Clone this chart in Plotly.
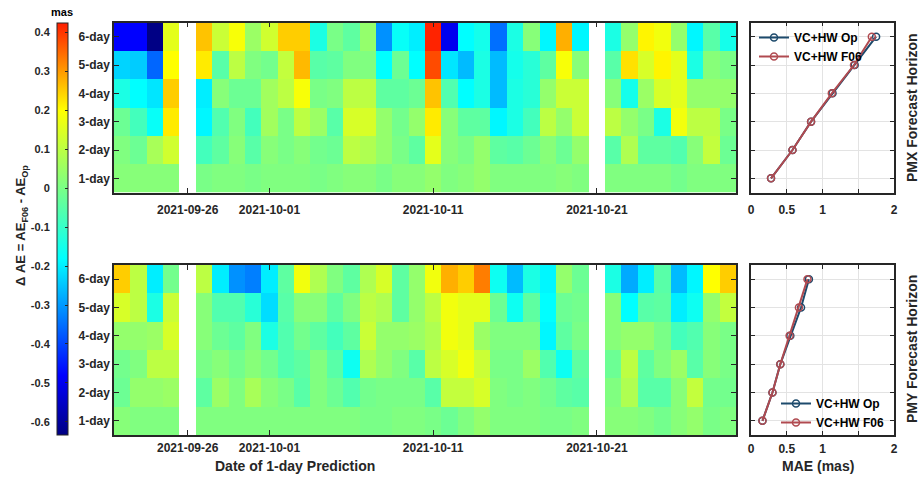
import plotly.graph_objects as go

W, H = 921, 479
def X(px): return px / W
def Y(py): return 1 - py / H

# ---------------- data ----------------
dates = ["2021-09-22", "2021-09-23", "2021-09-24", "2021-09-25", "2021-09-26", "2021-09-27",
         "2021-09-28", "2021-09-29", "2021-09-30", "2021-10-01", "2021-10-02", "2021-10-03",
         "2021-10-04", "2021-10-05", "2021-10-06", "2021-10-07", "2021-10-08", "2021-10-09",
         "2021-10-10", "2021-10-11", "2021-10-12", "2021-10-13", "2021-10-14", "2021-10-15",
         "2021-10-16", "2021-10-17", "2021-10-18", "2021-10-19", "2021-10-20", "2021-10-21",
         "2021-10-22", "2021-10-23", "2021-10-24", "2021-10-25", "2021-10-26", "2021-10-27",
         "2021-10-28", "2021-10-29"]
horizons = [1, 2, 3, 4, 5, 6]
horizon_labels = ["1-day", "2-day", "3-day", "4-day", "5-day", "6-day"]
N = None

# Delta AE (mas), PMX, rows = 1-day ... 6-day
dae_pmx = [
    [0.02, 0.02, 0.02, 0.02, N, 0.00, 0.01, 0.01, 0.00, 0.01, 0.01, 0.01, 0.00, 0.01, 0.02, 0.02, 0.00, 0.02, 0.02,
     0.04, 0.01, 0.02, 0.04, 0.01, 0.01, 0.01, 0.01, 0.02, 0.01, N, 0.01, 0.01, 0.01, 0.01, -0.01, 0.01, 0.01, 0.01],
    [0.01, -0.02, 0.07, 0.13, N, -0.08, -0.04, 0.02, -0.05, 0.02, 0.00, 0.02, -0.01, -0.02, 0.10, 0.08, 0.04, 0.00, -0.04,
     0.16, 0.02, 0.00, 0.04, -0.04, -0.05, -0.02, 0.02, -0.02, 0.04, N, -0.05, 0.08, -0.04, -0.04, -0.06, 0.02, 0.11, -0.02],
    [-0.02, -0.08, -0.17, 0.22, N, -0.19, -0.06, 0.01, -0.08, 0.06, 0.00, 0.10, 0.05, -0.05, 0.14, 0.14, 0.04, -0.01, 0.04,
     0.22, 0.02, -0.04, -0.04, -0.19, -0.14, -0.08, 0.10, 0.04, 0.12, N, 0.10, 0.04, 0.00, -0.14, 0.18, 0.10, 0.10, 0.00],
    [-0.14, -0.18, -0.21, 0.25, N, -0.20, 0.02, -0.02, -0.02, 0.06, 0.10, 0.19, 0.00, 0.01, 0.10, 0.10, -0.04, -0.04, -0.02,
     0.26, -0.06, -0.18, -0.14, -0.26, -0.14, -0.12, 0.04, 0.12, 0.12, N, 0.02, -0.15, 0.05, 0.14, 0.16, 0.04, 0.04, 0.04],
    [-0.23, -0.24, -0.36, 0.20, N, 0.22, -0.05, 0.10, 0.01, -0.01, 0.11, 0.27, -0.05, -0.04, 0.01, 0.01, -0.18, -0.02, -0.18,
     0.38, -0.21, -0.26, -0.14, -0.26, -0.15, -0.12, -0.04, 0.19, 0.02, N, -0.05, 0.23, 0.14, 0.21, 0.16, -0.14, 0.02, 0.00],
    [-0.48, -0.48, -0.63, 0.16, N, 0.26, 0.12, 0.19, 0.05, 0.13, 0.25, 0.25, -0.14, 0.00, -0.04, 0.04, -0.31, -0.17, -0.20,
     0.42, -0.50, -0.18, -0.15, -0.35, -0.14, 0.02, -0.19, 0.28, -0.19, N, -0.14, 0.04, 0.21, 0.18, 0.04, -0.19, -0.05, -0.15],
]

# Delta AE (mas), PMY, rows = 1-day ... 6-day
dae_pmy = [
    [0.02, 0.01, 0.01, 0.01, N, 0.01, 0.01, 0.01, 0.01, 0.01, 0.01, 0.01, 0.01, 0.01, 0.01, 0.00, 0.00, 0.01, 0.01,
     0.00, -0.02, 0.01, 0.04, 0.01, 0.01, 0.01, 0.00, 0.00, 0.01, N, 0.02, 0.02, 0.01, -0.01, 0.02, 0.04, 0.00, 0.01],
    [-0.02, 0.04, 0.04, 0.05, N, -0.04, 0.05, 0.01, 0.07, 0.02, 0.00, -0.05, 0.01, -0.02, -0.06, -0.01, 0.00, 0.00, 0.00,
     -0.05, 0.11, 0.11, 0.14, 0.01, 0.00, 0.01, -0.01, -0.04, -0.05, N, 0.01, 0.08, -0.05, -0.05, 0.02, 0.11, -0.01, -0.01],
    [-0.01, 0.01, 0.10, 0.10, N, 0.00, 0.02, -0.01, 0.02, -0.01, -0.06, -0.04, 0.01, -0.05, -0.16, 0.08, 0.04, 0.01, -0.05,
     0.10, 0.14, 0.18, 0.12, 0.00, 0.00, 0.05, -0.06, -0.16, -0.04, N, -0.02, 0.10, -0.04, 0.01, 0.05, -0.05, 0.02, 0.00],
    [0.04, 0.04, 0.05, 0.14, N, 0.02, -0.02, -0.04, 0.01, -0.14, -0.06, -0.01, -0.04, -0.08, -0.04, 0.12, 0.04, 0.04, 0.05,
     0.08, 0.18, 0.16, 0.05, 0.01, 0.01, 0.01, -0.19, -0.04, 0.00, N, 0.02, 0.04, 0.04, 0.00, -0.08, -0.06, 0.02, 0.00],
    [0.14, 0.10, -0.14, 0.12, N, 0.02, -0.06, -0.06, -0.12, -0.22, -0.05, 0.02, 0.02, -0.04, 0.01, 0.10, 0.08, -0.04, 0.04,
     0.10, 0.18, 0.16, 0.16, -0.02, -0.16, -0.04, -0.18, -0.02, -0.01, N, 0.02, -0.18, -0.05, -0.04, -0.20, -0.16, 0.04, 0.11],
    [0.25, 0.10, -0.20, -0.01, N, 0.10, -0.20, -0.31, -0.33, -0.20, -0.04, 0.18, 0.08, 0.01, -0.04, 0.08, 0.14, -0.04, 0.04,
     0.18, 0.28, 0.25, 0.33, -0.16, -0.26, -0.14, -0.19, 0.04, -0.02, N, -0.14, -0.28, -0.20, -0.05, -0.26, -0.19, 0.20, 0.25],
]

# MAE (mas) per forecast horizon
mae_pmx_op = [0.28, 0.58, 0.84, 1.14, 1.45, 1.75]
mae_pmx_f06 = [0.28, 0.58, 0.84, 1.13, 1.44, 1.69]
mae_pmy_op = [0.16, 0.30, 0.41, 0.55, 0.70, 0.81]
mae_pmy_f06 = [0.16, 0.30, 0.41, 0.54, 0.67, 0.79]

cb_ticks = [0.4, 0.3, 0.2, 0.1, 0, -0.1, -0.2, -0.3, -0.4, -0.5, -0.6]
cb_ticktext = ["0.4", "0.3", "0.2", "0.1", "0", "-0.1", "-0.2", "-0.3", "-0.4", "-0.5", "-0.6"]
date_ticks = ["2021-09-26", "2021-10-01", "2021-10-11", "2021-10-21"]
zmin, zmax = -0.633, 0.425

# ---------------- styling ----------------
FONT = "Liberation Sans, Arial, sans-serif"
TXT = "#262626"
OP_COLOR = "#1d4a6c"
F06_COLOR = "#b04a50"

def vpos(v):
    return (v - zmin) / (zmax - zmin)

colorscale = [
    [0.0, "rgb(0,0,131)"],
    [vpos(-0.48), "rgb(0,0,255)"],
    [vpos(-0.18), "rgb(0,255,255)"],
    [vpos(0.01), "rgb(128,255,128)"],
    [vpos(0.20), "rgb(255,255,0)"],
    [1.0, "rgb(255,30,0)"],
]

fig = go.Figure()

fig.add_trace(go.Heatmap(x=dates, y=horizons, z=dae_pmx, coloraxis="coloraxis",
                         xaxis="x", yaxis="y", hoverongaps=False))
fig.add_trace(go.Heatmap(x=dates, y=horizons, z=dae_pmy, coloraxis="coloraxis",
                         xaxis="x3", yaxis="y3", hoverongaps=False))

line_kw = dict(mode="lines+markers", line=dict(width=2),
               marker=dict(symbol="circle-open", size=7, line=dict(width=1.5)))
fig.add_trace(go.Scatter(x=mae_pmx_op, y=horizons, name="VC+HW Op", xaxis="x2", yaxis="y2",
                         legend="legend", **line_kw, line_color=OP_COLOR, marker_color=OP_COLOR))
fig.add_trace(go.Scatter(x=mae_pmx_f06, y=horizons, name="VC+HW F06", xaxis="x2", yaxis="y2",
                         legend="legend", **line_kw, line_color=F06_COLOR, marker_color=F06_COLOR))
fig.add_trace(go.Scatter(x=mae_pmy_op, y=horizons, name="VC+HW Op", xaxis="x4", yaxis="y4",
                         legend="legend2", **line_kw, line_color=OP_COLOR, marker_color=OP_COLOR))
fig.add_trace(go.Scatter(x=mae_pmy_f06, y=horizons, name="VC+HW F06", xaxis="x4", yaxis="y4",
                         legend="legend2", **line_kw, line_color=F06_COLOR, marker_color=F06_COLOR))
# empty trace to carry the colorbar label axis
fig.add_trace(go.Scatter(x=[], y=[], xaxis="x5", yaxis="y5", showlegend=False))

tickfont = dict(family=FONT, size=12, color=TXT, weight="bold")

heat_x = dict(type="date", range=["2021-09-21 12:00", "2021-10-29 12:00"],
              tickvals=date_ticks, tickformat="%Y-%m-%d", ticks="inside", ticklen=5,
              tickcolor=TXT, mirror="ticks", showline=True, linecolor=TXT, linewidth=1.5,
              showgrid=False, zeroline=False, tickfont=tickfont)
heat_y = dict(range=[0.5, 6.5], tickvals=horizons, ticktext=horizon_labels, ticks="inside",
              ticklen=5, tickcolor=TXT, mirror="ticks", showline=True, linecolor=TXT,
              linewidth=1.5, showgrid=False, zeroline=False, tickfont=tickfont)
line_x = dict(range=[0, 2], tickvals=[0, 0.5, 1, 1.5, 2], ticktext=["0", "0.5", "1", "", "2"],
              ticks="inside", ticklen=4, tickcolor=TXT, mirror="ticks", showline=True,
              linecolor=TXT, linewidth=1.5, showgrid=True, gridcolor="#e3e3e3", zeroline=False,
              tickfont=tickfont)
line_y = dict(range=[0.5, 6.5], tickvals=horizons, showticklabels=False, ticks="inside",
              ticklen=4, tickcolor=TXT, mirror="ticks", showline=True, linecolor=TXT,
              linewidth=1.5, showgrid=True, gridcolor="#e3e3e3", zeroline=False)

top_dom = [Y(192.5), Y(22.5)]
bot_dom = [Y(435), Y(265)]

def label(text, x, y, size=14, angle=0, color=TXT):
    return dict(text=text, x=X(x), y=Y(y), xref="paper", yref="paper", showarrow=False,
                xanchor="center", yanchor="middle", textangle=angle,
                font=dict(family=FONT, size=size, color=color, weight="bold"))

fig.update_layout(
    width=W, height=H, autosize=False,
    margin=dict(l=0, r=0, t=0, b=0, autoexpand=False),
    paper_bgcolor="white", plot_bgcolor="white",
    font=dict(family=FONT, color=TXT),
    xaxis=dict(domain=[X(114), X(736)], anchor="y", ticklabelstandoff=5, **heat_x),
    yaxis=dict(domain=top_dom, anchor="x", **heat_y),
    xaxis3=dict(domain=[X(114), X(736)], anchor="y3", ticklabelstandoff=1, **heat_x),
    yaxis3=dict(domain=bot_dom, anchor="x3", **heat_y),
    xaxis2=dict(domain=[X(751), X(894)], anchor="y2", ticklabelstandoff=5, **line_x),
    yaxis2=dict(domain=top_dom, anchor="x2", **line_y),
    xaxis4=dict(domain=[X(751), X(894)], anchor="y4", ticklabelstandoff=2, **line_x),
    yaxis4=dict(domain=bot_dom, anchor="x4", **line_y),
    xaxis5=dict(domain=[X(57), X(68)], anchor="y5", visible=False, range=[0, 1]),
    yaxis5=dict(domain=[Y(435), Y(22.7)], anchor="x5", range=[zmin, zmax], side="left",
                tickvals=cb_ticks, ticktext=cb_ticktext, showgrid=False, zeroline=False,
                showline=False, ticks="outside", ticklen=4, tickcolor="rgba(0,0,0,0)",
                tickfont=dict(family=FONT, size=11, color=TXT, weight="bold")),
    coloraxis=dict(
        cmin=zmin, cmax=zmax, colorscale=colorscale,
        colorbar=dict(x=X(57), xanchor="left", xpad=0, y=Y(22.7), yanchor="top", ypad=0,
                      lenmode="pixels", len=412.3, thicknessmode="pixels", thickness=11,
                      outlinewidth=1, outlinecolor=TXT, showticklabels=False,
                      tickvals=cb_ticks, ticks="inside", ticklen=3, tickcolor=TXT),
    ),
    legend=dict(x=X(754), y=Y(23), xanchor="left", yanchor="top", bgcolor="rgba(0,0,0,0)",
                font=dict(family=FONT, size=12, color="black", weight="bold"),
                itemwidth=30, tracegroupgap=0),
    legend2=dict(x=X(776), y=Y(389), xanchor="left", yanchor="top", bgcolor="rgba(0,0,0,0)",
                 font=dict(family=FONT, size=12, color="black", weight="bold"),
                 itemwidth=30, tracegroupgap=0),
    annotations=[
        label("mas", 62, 12, size=11, color="black"),
        label("Δ AE = AE<sub>F06</sub> - AE<sub>Op</sub>", 21, 226, size=13, angle=-90),
        label("Date of 1-day Prediction", 295, 466),
        label("MAE (mas)", 818, 466),
        label("PMX Forecast Horizon", 912, 108, angle=-90),
        label("PMY Forecast Horizon", 912, 349, angle=-90),
    ],
)

fig.write_html("out.html", config={"displayModeBar": False},
               post_script="document.body.style.margin='0px';")
